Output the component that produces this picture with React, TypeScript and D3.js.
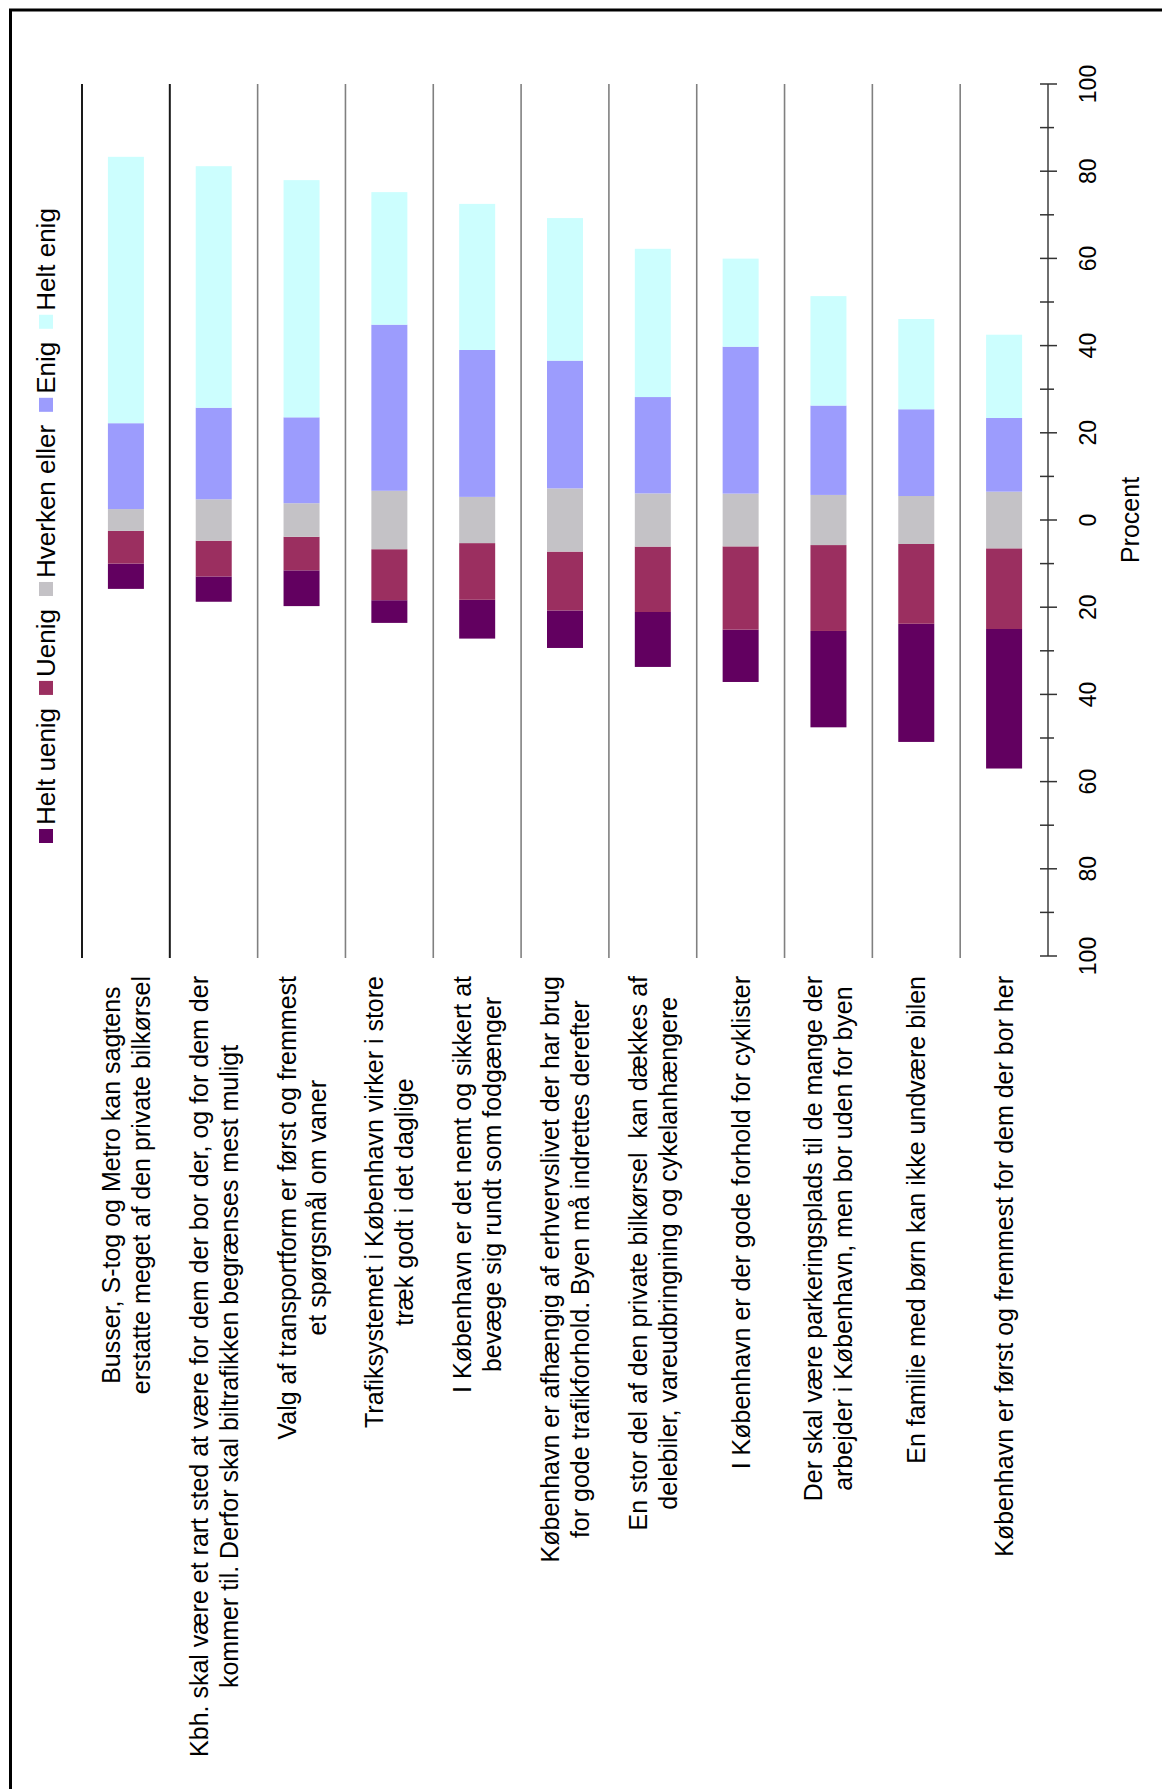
import React, { useEffect, useRef } from "react";
import * as d3 from "d3";

// ---- data ----
const categories: string[][] = [
  ["Busser, S-tog og Metro kan sagtens", "erstatte meget af den private bilkørsel"],
  ["Kbh. skal være et rart sted at være for dem der bor der, og for dem der", "kommer til. Derfor skal biltrafikken begrænses mest muligt"],
  ["Valg af transportform er først og fremmest", "et spørgsmål om vaner"],
  ["Trafiksystemet i København virker i store", "træk godt i det daglige"],
  ["I København er det nemt og sikkert at", "bevæge sig rundt som fodgænger"],
  ["København er afhængig af erhvervslivet der har brug", "for gode trafikforhold. Byen må indrettes derefter"],
  ["En stor del af den private bilkørsel  kan dækkes af", "delebiler, vareudbringning og cykelanhængere"],
  ["I København er der gode forhold for cyklister"],
  ["Der skal være parkeringsplads til de mange der", "arbejder i København, men bor uden for byen"],
  ["En familie med børn kan ikke undvære bilen"],
  ["København er først og fremmest for dem der bor her"],
];

const seriesNames = ["Helt uenig", "Uenig", "Hverken eller", "Enig", "Helt enig"];
const seriesColors = ["#620060", "#9b2f60", "#c4c2c6", "#9c9cfd", "#ccfefe"];

const heltUenig = [5.8, 5.8, 8.2, 5.2, 8.9, 8.6, 12.6, 12.0, 22.1, 27.1, 32.0];
const uenig = [7.5, 8.2, 7.7, 11.7, 13.0, 13.5, 15.0, 19.1, 19.7, 18.3, 18.5];
const hverken = [5.0, 9.5, 7.7, 13.4, 10.6, 14.5, 12.2, 12.1, 11.5, 11.0, 13.0];
const enig = [19.7, 21.0, 19.7, 38.1, 33.7, 29.3, 22.1, 33.7, 20.5, 19.9, 16.9];
const heltEnig = [61.1, 55.4, 54.4, 30.4, 33.5, 32.7, 34.0, 20.2, 25.1, 20.7, 19.1];

const majorTicks = [-100, -80, -60, -40, -20, 0, 20, 40, 60, 80, 100];
const minorTicks = [-90, -70, -50, -30, -10, 10, 30, 50, 70, 90];
const axisTitle = "Procent";

const FONT = "'Liberation Sans', Arial, Helvetica, sans-serif";

export default function App() {
  const ref = useRef<SVGSVGElement | null>(null);

  useEffect(() => {
    const svg = d3.select(ref.current);
    svg.selectAll("*").remove();

    const W = 1162, H = 1789;
    svg.append("rect").attr("x", 0).attr("y", 0).attr("width", W).attr("height", H).attr("fill", "#ffffff");

    // frame (extends beyond right/bottom edges)
    svg.append("rect").attr("x", 10.5).attr("y", 10).attr("width", 1300).attr("height", 1900)
      .attr("fill", "none").attr("stroke", "#000").attr("stroke-width", 3);

    const idx = categories.map((_, i) => String(i));
    const xBand = d3.scaleBand<string>().domain(idx).range([82, 1048]).paddingInner(0).paddingOuter(0);
    const y = d3.scaleLinear().domain([-100, 100]).range([956, 84]);
    const barW = 36;

    // separator lines
    idx.forEach((k, i) => {
      const xx = xBand(k)!;
      svg.append("line").attr("x1", xx).attr("x2", xx).attr("y1", y(100)).attr("y2", y(-100) + 2)
        .attr("stroke", i < 2 ? "#1a1a1a" : "#808080").attr("stroke-width", i < 2 ? 2 : 1.6);
    });

    // bars
    categories.forEach((_, i) => {
      const half = hverken[i] / 2;
      const segs: [number, number][] = [
        [-(half + uenig[i] + heltUenig[i]), -(half + uenig[i])],
        [-(half + uenig[i]), -half],
        [-half, half],
        [half, half + enig[i]],
        [half + enig[i], half + enig[i] + heltEnig[i]],
      ];
      const cx = xBand(String(i))! + xBand.bandwidth() / 2;
      segs.forEach(([a, b], s) => {
        svg.append("rect").attr("x", cx - barW / 2).attr("width", barW)
          .attr("y", y(b)).attr("height", y(a) - y(b))
          .attr("fill", seriesColors[s]);
      });
    });

    // value axis
    const ax = 1048;
    svg.append("line").attr("x1", ax).attr("x2", ax).attr("y1", y(100)).attr("y2", y(-100))
      .attr("stroke", "#6e6e6e").attr("stroke-width", 2);
    majorTicks.forEach((t) => {
      svg.append("line").attr("x1", ax - 8).attr("x2", ax + 9).attr("y1", y(t)).attr("y2", y(t))
        .attr("stroke", "#333").attr("stroke-width", 1.5);
      svg.append("text").attr("transform", `translate(${ax + 40},${y(t)}) rotate(-90)`)
        .attr("text-anchor", "middle").attr("dominant-baseline", "central")
        .attr("font-family", FONT).attr("font-size", 23).attr("fill", "#000")
        .text(String(Math.abs(t)));
    });
    minorTicks.forEach((t) => {
      svg.append("line").attr("x1", ax - 8).attr("x2", ax + 6).attr("y1", y(t)).attr("y2", y(t))
        .attr("stroke", "#333").attr("stroke-width", 1.5);
    });
    svg.append("text").attr("transform", `translate(${1130},${y(0)}) rotate(-90)`)
      .attr("text-anchor", "middle").attr("dominant-baseline", "central")
      .attr("font-family", FONT).attr("font-size", 25).attr("fill", "#000")
      .text(axisTitle);

    // category labels
    const labelEndY = 976;
    const lineGap = 30;
    categories.forEach((lines, i) => {
      const cx = xBand(String(i))! + xBand.bandwidth() / 2;
      const texts = lines.map((ln) =>
        svg.append("text").attr("font-family", FONT).attr("font-size", 25).attr("fill", "#000")
          .attr("text-anchor", "middle").attr("dominant-baseline", "central")
          .style("white-space", "pre").text(ln)
      );
      const widths = texts.map((t) => (t.node() as SVGTextElement).getComputedTextLength());
      const maxW = Math.max(...widths);
      const n = lines.length;
      texts.forEach((t, j) => {
        const lx = cx + (j - (n - 1) / 2) * lineGap;
        t.attr("transform", `translate(${lx},${labelEndY + maxW / 2}) rotate(-90)`);
      });
    });

    // legend (reading bottom to top)
    const legX = 46;
    let cur = 843;
    const sq = 14;
    seriesNames.forEach((name, s) => {
      svg.append("rect").attr("x", legX - sq / 2).attr("y", cur - sq).attr("width", sq).attr("height", sq)
        .attr("fill", seriesColors[s]);
      cur -= sq + 4;
      const t = svg.append("text").attr("font-family", FONT).attr("font-size", 26).attr("fill", "#000")
        .attr("text-anchor", "start").attr("dominant-baseline", "central")
        .attr("transform", `translate(${legX},${cur}) rotate(-90)`).text(name);
      const w = (t.node() as SVGTextElement).getComputedTextLength();
      cur -= w + 13;
    });
  }, []);

  return (
    <svg ref={ref} width={1162} height={1789}
      style={{ position: "absolute", left: 0, top: 0, display: "block" }} />
  );
}
